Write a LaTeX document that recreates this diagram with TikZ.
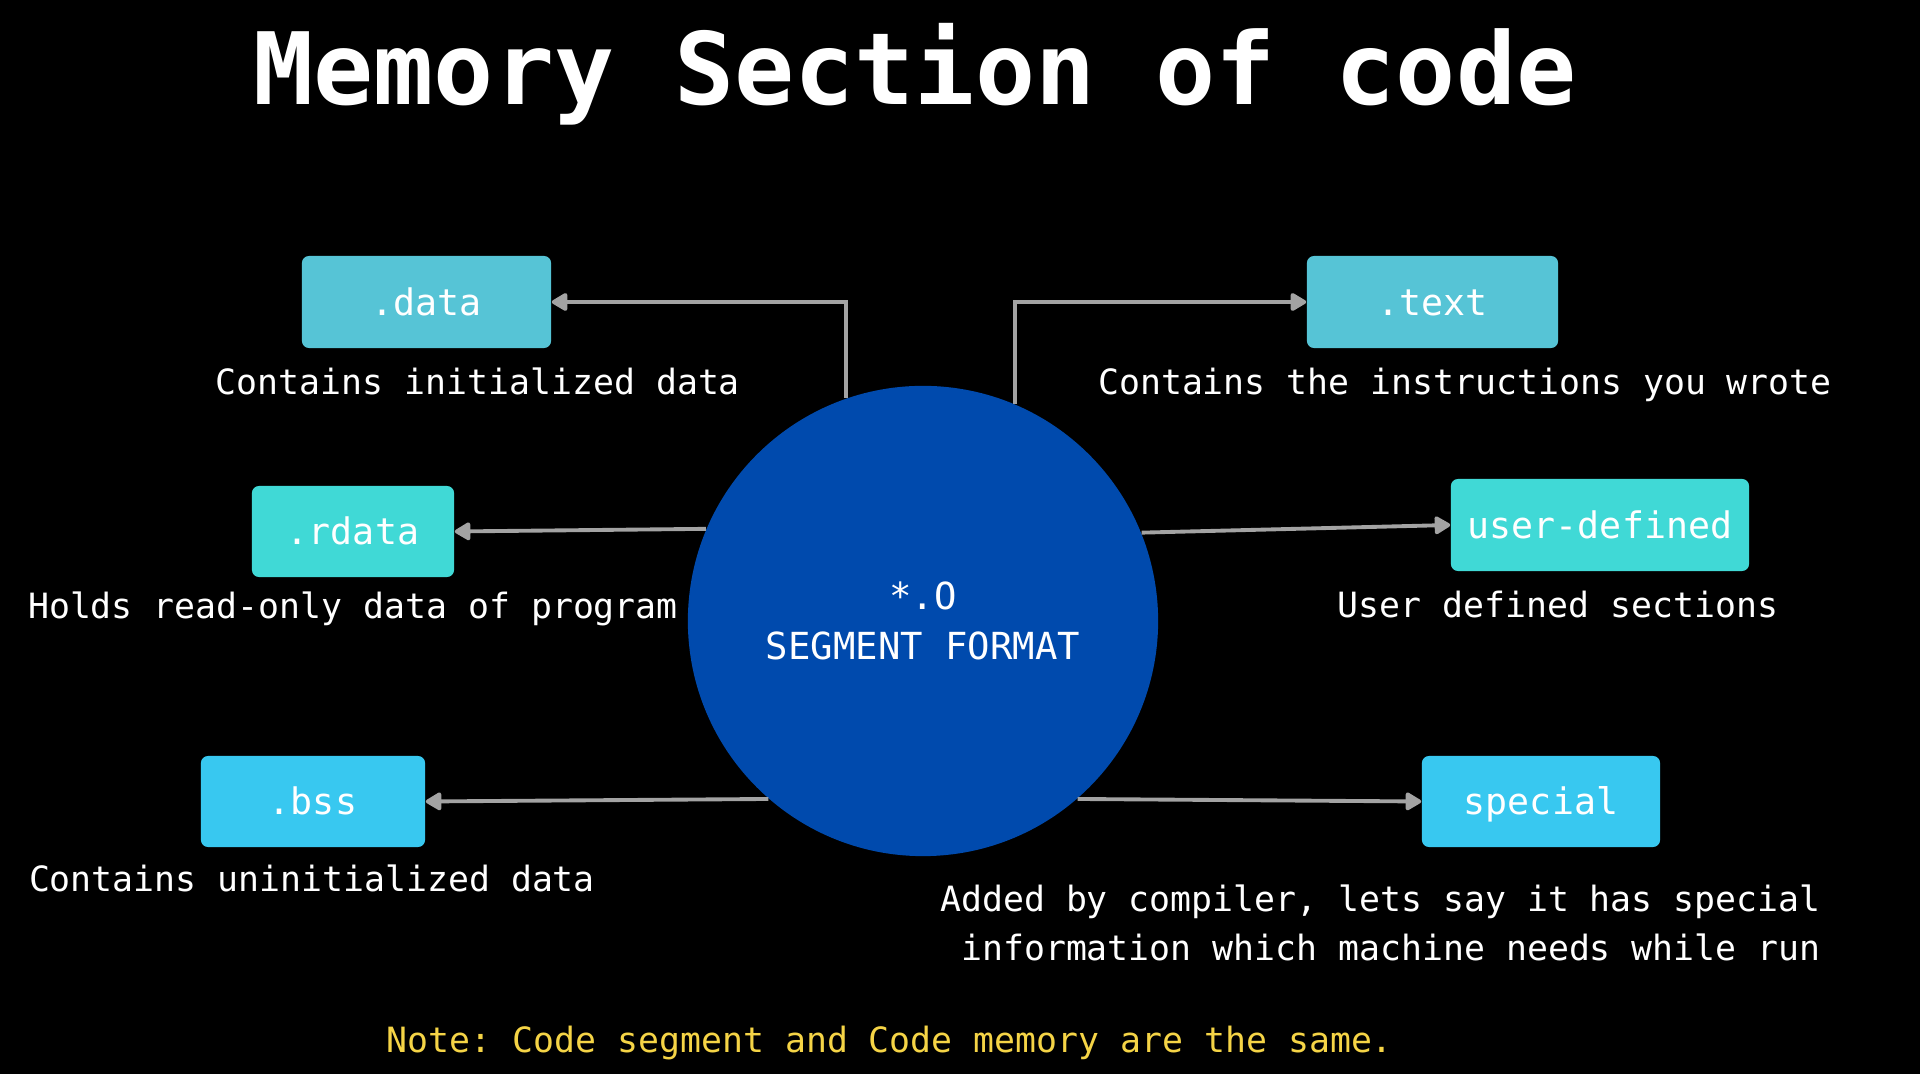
\documentclass[tikz,border=0pt]{standalone}
\usepackage{fontspec}
\setmonofont{DejaVu Sans Mono}
\usetikzlibrary{arrows.meta}

\definecolor{segblue}{RGB}{0,74,173}
\definecolor{datacyan}{RGB}{86,196,214}
\definecolor{rdataturq}{RGB}{64,217,214}
\definecolor{bssblue}{RGB}{56,200,240}
\definecolor{arrowgray}{RGB}{163,163,163}
\definecolor{noteyellow}{RGB}{245,212,70}

\begin{document}
\begin{tikzpicture}[x=0.01cm, y=-0.01cm,
  sectbox/.style={rounded corners=2pt, inner sep=0pt, text=white,
    font=\ttfamily\fontsize{10.4}{12}\selectfont, text height=0.76em, text depth=0pt},
  caption/.style={anchor=base, text=white, font=\ttfamily\fontsize{9.9}{14.2}\selectfont},
  conn/.style={draw=arrowgray, line width=1.1pt,
    -{Triangle[length=5pt, width=5.6pt, round]}}]

% Background
\fill[black] (0,0) rectangle (1920,1074);

% Title
\node[anchor=base, text=white, font=\ttfamily\bfseries\fontsize{28.4}{34}\selectfont]
  (title) at (915,105) {Memory Section of code};

% Centre circle
\node[circle, fill=segblue, minimum size=4.70cm, inner sep=0pt, align=center,
  text=white, font=\ttfamily\fontsize{10.6}{14.2}\selectfont]
  (seg) at (923,621) {*.O\\SEGMENT FORMAT};

% Section boxes
\node[sectbox, fill=datacyan, minimum width=2.49cm, minimum height=0.92cm]
  (data) at (426.5,302) {.data};
\node[sectbox, fill=datacyan, minimum width=2.51cm, minimum height=0.92cm]
  (text) at (1432.5,302) {.text};
\node[sectbox, fill=rdataturq, minimum width=2.02cm, minimum height=0.91cm]
  (rdata) at (353,531.5) {.rdata};
\node[sectbox, fill=rdataturq, minimum width=2.98cm, minimum height=0.92cm]
  (user) at (1600,525) {user-defined};
\node[sectbox, fill=bssblue, minimum width=2.24cm, minimum height=0.91cm]
  (bss) at (313,801.5) {.bss};
\node[sectbox, fill=bssblue, minimum width=2.38cm, minimum height=0.91cm]
  (special) at (1541,801.5) {special};

% Captions
\node[caption] (datacap) at (478,395) {Contains initialized data};
\node[caption] (textcap) at (1465,395) {Contains the instructions you wrote};
\node[caption] (rdatacap) at (353,619) {Holds read-only data of program};
\node[caption] (usercap) at (1558,618) {User defined sections};
\node[caption] (bsscap) at (312,892) {Contains uninitialized data};
% (base of a two-line node is its last line)
\node[caption, anchor=base east, align=right] (specialcap) at (1833,961)
  {Added by compiler, lets say it has special\\information which machine needs while run};

% Note
\node[anchor=base, text=noteyellow, font=\ttfamily\fontsize{9.9}{12}\selectfont]
  (note) at (890,1053) {Note: Code segment and Code memory are the same.};

% Connectors
\draw[conn] (seg.109.1) |- (data.east);
\draw[conn] (seg.67.5) |- (text.west);
\draw[conn] (seg.157.5) -- (rdata.east);
\draw[conn] (seg.22.7) -- (user.west);
\draw[conn] (seg.229.8) -- (bss.east);
\draw[conn] (seg.311.2) -- (special.west);

\end{tikzpicture}
\end{document}
